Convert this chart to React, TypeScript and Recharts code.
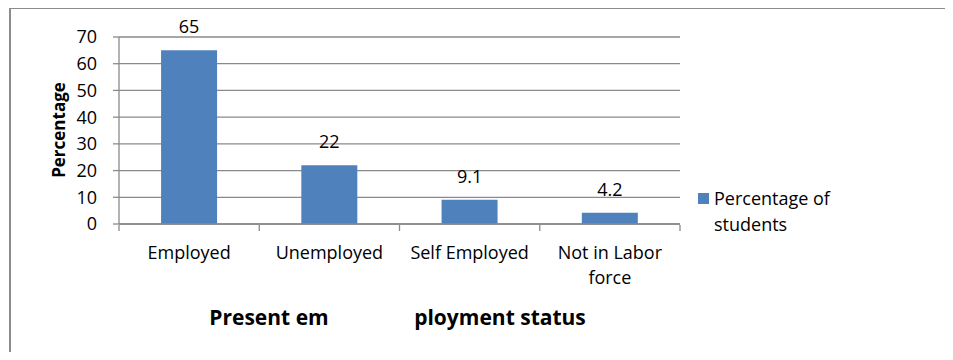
import { Bar, BarChart, CartesianGrid, LabelList, Legend, Text, XAxis, YAxis } from "recharts";

const categories = ["Employed", "Unemployed", "Self Employed", "Not in Labor force"];
const percentages = [65, 22, 9.1, 4.2];
const yTicks = [0, 10, 20, 30, 40, 50, 60, 70];
const edgeTicks = [0, 1, 2, 3, 4];
const seriesName = "Percentage of students";

const data = categories.map((category, i) => ({
  category,
  value: percentages[i],
  slot: i + 0.5
}));

const FONT = "'Open Sans', sans-serif";
const GRID = "#8a8a8a";
const BAR = "#4f81bd";

const CategoryTick = (props: any) => {
  const { x, y, payload } = props;
  return (
    <Text
      x={x}
      y={y}
      width={132}
      textAnchor="middle"
      verticalAnchor="start"
      lineHeight={25}
      style={{ fontSize: 18, fontFamily: FONT }}
      fill="#000"
    >
      {payload.value}
    </Text>
  );
};

// boundary ticks only, no text
const EmptyTick = () => <g />;

const XTitle = (props: any) => {
  const { viewBox } = props;
  const x0 = viewBox.x;
  return (
    <g fontFamily={FONT} fontSize={21} fontWeight="bold" fill="#000">
      <text x={x0 + 150} y={325} textAnchor="middle">Present em</text>
      <text x={x0 + 381} y={325} textAnchor="middle">ployment status</text>
    </g>
  );
};

const YTitle = () => (
  <text
    x={58}
    y={130}
    transform="rotate(-90 58 130)"
    textAnchor="middle"
    dominantBaseline="central"
    fontFamily={FONT}
    fontSize={17}
    fontWeight="bold"
    fill="#000"
  >
    Percentage
  </text>
);

const LegendBox = () => (
  <div style={{ display: "flex", fontFamily: FONT, fontSize: 18, lineHeight: "26px", color: "#000" }}>
    <div style={{ width: 11, height: 11, background: BAR, marginTop: 8, marginRight: 5, flexShrink: 0 }} />
    <div>
      Percentage of
      <br />
      students
    </div>
  </div>
);

export default function App() {
  return (
    <div style={{ margin: -8, width: 953, height: 360, position: "relative", overflow: "hidden", background: "#fff" }}>
      <div
        style={{
          position: "absolute",
          left: 9,
          top: 7,
          width: 1000,
          height: 400,
          borderTop: "2px solid #8c8c8c",
          borderLeft: "2px solid #8c8c8c"
        }}
      />
      <div style={{ position: "absolute", left: 0, top: 0 }}>
        <BarChart
          width={953}
          height={360}
          data={data}
          margin={{ top: 37, right: 273, bottom: 134, left: 118 }}
          barCategoryGap="30%"
        >
          <CartesianGrid xAxisId="cat" vertical={false} stroke={GRID} strokeWidth={1.3} />
          <XAxis
            xAxisId="edges"
            type="number"
            dataKey="slot"
            domain={[0, 4]}
            ticks={edgeTicks}
            height={1}
            tick={<EmptyTick />}
            axisLine={false}
            tickSize={6}
            tickLine={{ stroke: GRID, strokeWidth: 1.3 }}
          />
          <XAxis
            xAxisId="cat"
            dataKey="category"
            height={1}
            tickLine={false}
            axisLine={{ stroke: GRID, strokeWidth: 1.3 }}
            tickSize={5}
            tickMargin={17}
            interval={0}
            tick={<CategoryTick />}
            label={{ content: <XTitle /> }}
          />
          <YAxis
            width={1}
            domain={[0, 70]}
            ticks={yTicks}
            interval={0}
            tickSize={6}
            tickMargin={16}
            tickLine={{ stroke: GRID, strokeWidth: 1.3 }}
            axisLine={{ stroke: GRID, strokeWidth: 1.3 }}
            tick={{ fontSize: 18, fontFamily: FONT, fill: "#000" }}
            label={{ content: <YTitle /> }}
          />
          <Legend
            layout="vertical"
            align="center"
            verticalAlign="middle"
            wrapperStyle={{ left: 698, top: 185, width: 220 }}
            content={<LegendBox />}
          />
          <Bar xAxisId="cat" dataKey="value" name={seriesName} fill={BAR} isAnimationActive={false}>
            <LabelList dataKey="value" position="top" offset={17} fontSize={18} fontFamily={FONT} fill="#000" />
          </Bar>
        </BarChart>
      </div>
    </div>
  );
}
